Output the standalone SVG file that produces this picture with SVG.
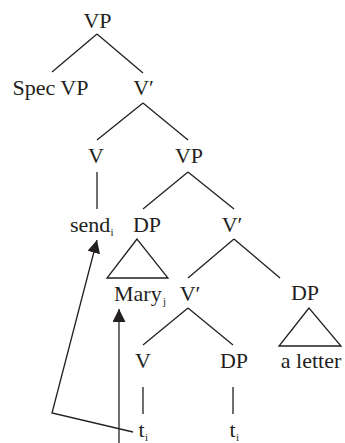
<svg xmlns="http://www.w3.org/2000/svg" width="345" height="443" viewBox="0 0 345 443">
<style>
text{font-size:22px;fill:#231f20}
.m{text-anchor:middle}
.s{font-size:11px}
.e{stroke:#231f20;stroke-width:1.3;fill:none}
.tri{stroke:#231f20;stroke-width:1.3;fill:none;stroke-linejoin:miter}
</style>
<defs>
<marker id="ah" markerUnits="userSpaceOnUse" markerWidth="14" markerHeight="14" refX="13" refY="6.5" orient="auto">
<path d="M0,0 L13,6.5 L0,13 z" fill="#231f20"/>
</marker>
</defs>
<rect width="345" height="443" fill="#fff"/>
<g id="edges">
<line class="e" x1="97" y1="34" x2="52" y2="72"/>
<line class="e" x1="97" y1="34" x2="143" y2="73"/>
<line class="e" x1="143" y1="103" x2="97" y2="140"/>
<line class="e" x1="143" y1="103" x2="188" y2="140"/>
<line class="e" x1="97" y1="172" x2="97" y2="209"/>
<line class="e" x1="188" y1="172" x2="143" y2="209"/>
<line class="e" x1="188" y1="172" x2="234" y2="209"/>
<line class="e" x1="234" y1="239" x2="188" y2="278"/>
<line class="e" x1="234" y1="239" x2="280" y2="278"/>
<line class="e" x1="188" y1="308" x2="143" y2="345"/>
<line class="e" x1="188" y1="308" x2="233" y2="345"/>
<line class="e" x1="143" y1="387" x2="143" y2="414"/>
<line class="e" x1="233" y1="387" x2="233" y2="414"/>
<polyline class="e" points="133,432 52,413 97,240" marker-end="url(#ah)"/>
<line class="e" x1="119" y1="443" x2="119" y2="309" marker-end="url(#ah)"/>
</g>
<g font-family="Liberation Serif, DejaVu Serif, serif">
<g id="n-vp1"><text class="m" x="97.5" y="28">VP</text></g>
<g id="n-spec"><text class="m" x="50.5" y="95">Spec VP</text></g>
<g id="n-vbar1"><text class="m" x="143.5" y="95">V′</text></g>
<g id="n-v1"><text class="m" x="96" y="163">V</text></g>
<g id="n-vp2"><text class="m" x="189" y="163">VP</text></g>
<g id="n-send"><text x="70" y="232">send</text><text class="s" x="110.5" y="236">i</text></g>
<g id="n-dp1"><text class="m" x="147" y="232">DP</text><polygon class="tri" points="137,239 107,278 168,278"/></g>
<g id="n-vbar2"><text class="m" x="232" y="232">V′</text></g>
<g id="n-mary"><text x="114" y="301">Mary</text><text class="s" x="163" y="305">j</text></g>
<g id="n-vbar3"><text class="m" x="190" y="301">V′</text></g>
<g id="n-dp2"><text class="m" x="305" y="300">DP</text><polygon class="tri" points="309,308 279,346 341,346"/></g>
<g id="n-v2"><text class="m" x="143" y="368">V</text></g>
<g id="n-dp3"><text class="m" x="234" y="368">DP</text></g>
<g id="n-letter"><text class="m" x="311" y="368">a letter</text></g>
<g id="n-t1"><text x="138.5" y="437">t</text><text class="s" x="145" y="441">i</text></g>
<g id="n-t2"><text x="229.5" y="437">t</text><text class="s" x="236" y="441">i</text></g>
</g>
</svg>
